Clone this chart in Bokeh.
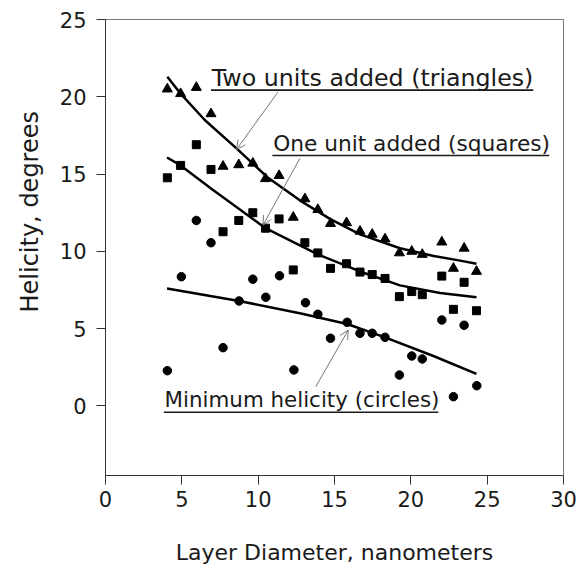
from bokeh.plotting import figure
from bokeh.models import Range1d, FixedTicker, Label, Arrow, OpenHead, Title
from bokeh.embed import file_html
from bokeh.resources import INLINE

# ---- data ----
diameter = [4.05, 4.92, 5.95, 6.91, 7.70, 8.73, 9.65, 10.48, 11.37, 12.30, 13.06, 13.91,
            14.74, 15.79, 16.67, 17.47, 18.31, 19.25, 20.06, 20.75, 22.03, 22.79, 23.49, 24.30]
triangles = [20.5, 20.2, 20.6, 18.9, 15.5, 15.6, 15.7, 14.7, 14.9, 12.2, 13.4, 12.7,
             11.8, 11.85, 11.3, 11.1, 10.8, 9.9, 10.0, 9.8, 10.6, 8.9, 10.2, 8.7]
squares = [14.76, 15.56, 16.9, 15.3, 11.27, 12.0, 12.5, 11.5, 12.1, 8.8, 10.56, 9.9,
           8.9, 9.2, 8.66, 8.5, 8.25, 7.07, 7.4, 7.2, 8.4, 6.25, 8.0, 6.16]
circles_x = [4.05, 4.97, 5.95, 6.91, 7.70, 8.75, 9.65, 10.50, 11.40, 12.34, 13.10, 13.91,
             14.74, 15.83, 16.67, 17.47, 18.31, 19.25, 20.06, 20.75, 22.03, 22.79, 23.49, 24.32]
circles = [2.28, 8.36, 12.0, 10.56, 3.77, 6.79, 8.2, 7.03, 8.42, 2.33, 6.68, 5.93,
           4.38, 5.41, 4.7, 4.7, 4.44, 2.0, 3.23, 3.04, 5.56, 0.6, 5.22, 1.31]

tri_fit_x = [4.05, 4.92, 6.5, 8.58, 10.6, 12.73, 14.7, 16.67, 19.29, 21.5, 23.23, 24.3]
tri_fit_y = [21.3, 20.2, 18.5, 16.66, 14.8, 13.3, 12.1, 11.1, 10.2, 9.7, 9.4, 9.2]
sq_fit_x = [4.03, 4.92, 7.0, 10.48, 13.91, 16.67, 19.29, 21.92, 24.3]
sq_fit_y = [16.07, 15.56, 14.0, 11.5, 9.8, 8.7, 7.8, 7.3, 7.03]
ci_fit_x = [4.03, 8.75, 12.73, 15.83, 18.31, 21.48, 24.3]
ci_fit_y = [7.6, 6.79, 6.0, 5.3, 4.44, 3.23, 2.07]

x_ticks = [0, 5, 10, 15, 20, 25, 30]
y_ticks = [0, 5, 10, 15, 20, 25]

FONT = "DejaVu Sans"
TXT = "#1a1a1a"

p = figure(width=579, height=570, output_backend="svg", toolbar_location=None,
           x_range=Range1d(0, 30), y_range=Range1d(-4.5, 25),
           min_border_left=105, min_border_right=16, min_border_top=19, min_border_bottom=95)
p.grid.visible = False
p.outline_line_color = "#777777"
p.outline_line_width = 1
p.background_fill_color = "white"
p.border_fill_color = "white"

for ax in (p.xaxis[0], p.yaxis[0]):
    ax.axis_line_color = "#333333"
    ax.major_tick_line_color = "#333333"
    ax.major_tick_out = 9
    ax.major_tick_in = 0
    ax.minor_tick_line_color = None
    ax.major_label_text_font = FONT
    ax.major_label_text_font_size = "21px"
    ax.major_label_text_color = TXT
    ax.axis_label_text_font = FONT
    ax.axis_label_text_font_style = "normal"
    ax.axis_label_text_color = TXT
p.xaxis.ticker = FixedTicker(ticks=x_ticks)
p.yaxis.ticker = FixedTicker(ticks=y_ticks)
p.xaxis.major_label_standoff = 6
p.yaxis.major_label_standoff = 10
p.xaxis.axis_label = "Layer Diameter, nanometers"
p.xaxis.axis_label_text_font_size = "22px"
p.xaxis.axis_label_standoff = 30

# y title as a left-side title, placed like the reference (starts above the frame bottom)
p.add_layout(Title(text="Helicity, degrees", align="left", offset=163, standoff=26,
                   text_font=FONT, text_font_size="24px", text_font_style="normal",
                   text_color=TXT), "left")

# fitted curves
for fx, fy in ((tri_fit_x, tri_fit_y), (sq_fit_x, sq_fit_y), (ci_fit_x, ci_fit_y)):
    p.line(fx, fy, line_color="black", line_width=2.5)

# markers
p.scatter(diameter, triangles, marker="triangle", size=10, fill_color="black", line_color="black")
p.scatter(diameter, squares, marker="square", size=8, fill_color="black", line_color="black")
p.scatter(circles_x, circles, marker="circle", size=8.5, fill_color="black", line_color="black")

# annotations: text, size, left x, text middle y, underline y, underline end x, arrow
notes = [
    ("Two units added (triangles)", "23.7px", 6.96, 21.2, 20.43, 28.02, (11.31, 20.32, 8.58, 16.59)),
    ("One unit added (squares)", "21.7px", 10.98, 16.97, 16.20, 29.07, (12.73, 16.01, 10.32, 11.70)),
    ("Minimum helicity (circles)", "21.4px", 3.87, 0.39, -0.41, 21.80, (13.78, 1.25, 15.90, 4.91)),
]
for text, fs, lx, ly, uy, ux_end, (ax0, ay0, ax1, ay1) in notes:
    p.add_layout(Label(x=lx, y=ly, text=text, text_font=FONT, text_font_size=fs,
                       text_color=TXT, text_align="left", text_baseline="middle"))
    p.segment(x0=[lx - 0.05], y0=[uy], x1=[ux_end], y1=[uy], line_color=TXT, line_width=1.6)
    p.add_layout(Arrow(x_start=ax0, y_start=ay0, x_end=ax1, y_end=ay1,
                       line_color="#777777", line_width=1,
                       end=OpenHead(size=9, line_color="#777777", line_width=1)))

open("out.html", "w").write(file_html(p, INLINE))
